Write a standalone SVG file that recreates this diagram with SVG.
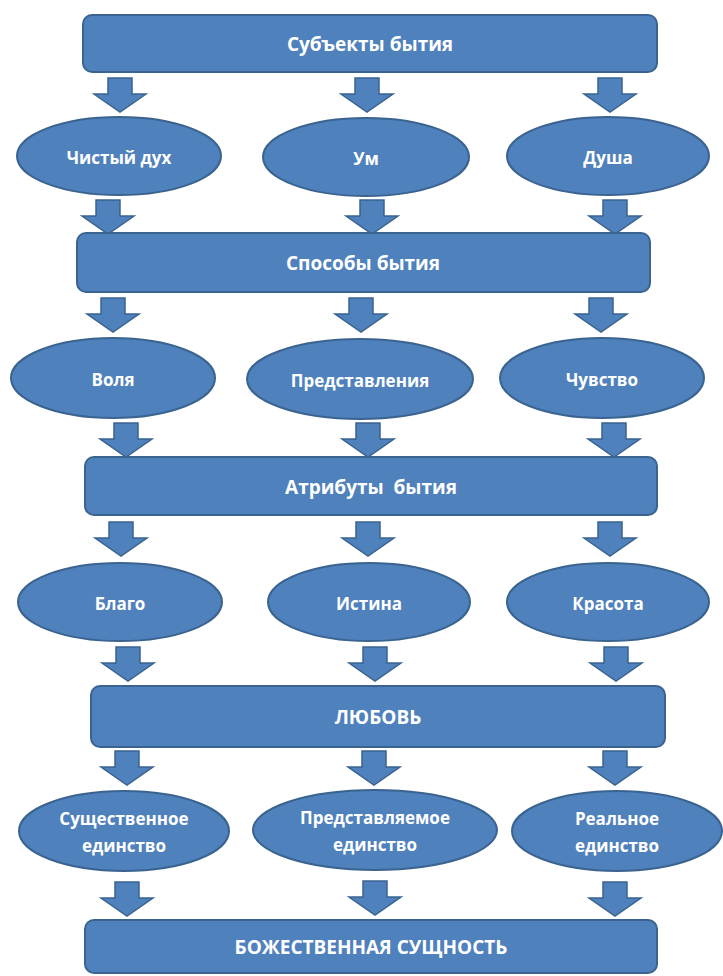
<svg xmlns="http://www.w3.org/2000/svg" xmlns:xlink="http://www.w3.org/1999/xlink" width="723" height="976" viewBox="0 0 723 976">
<style>
.box{fill:#4f81bd;stroke:#3a6390;stroke-width:2}
.ell{fill:#4f81bd;stroke:#3a6390;stroke-width:2}
.arr{fill:#4f81bd;stroke:#3a6390;stroke-width:1.5;stroke-linejoin:miter}
.bt{font-family:"Open Sans","Noto Sans","DejaVu Sans",sans-serif;font-weight:bold;font-size:19px;fill:#ffffff;text-anchor:middle;dominant-baseline:central}
.et{font-family:"Open Sans","Noto Sans","DejaVu Sans",sans-serif;font-weight:bold;font-size:17px;fill:#ffffff;text-anchor:middle;dominant-baseline:central}
</style>
<defs>
<path id="arrow" d="M -12 0 H 12 V 16 H 26 L 0 34 L -26 16 H -12 Z"/>
</defs>
<rect width="723" height="976" fill="#ffffff"/>
<g id="connectors">
<use xlink:href="#arrow" class="arr" x="120" y="78"/>
<use xlink:href="#arrow" class="arr" x="367" y="78"/>
<use xlink:href="#arrow" class="arr" x="610" y="78"/>
<use xlink:href="#arrow" class="arr" x="108" y="200"/>
<use xlink:href="#arrow" class="arr" x="372" y="200"/>
<use xlink:href="#arrow" class="arr" x="615" y="200"/>
<use xlink:href="#arrow" class="arr" x="113" y="298"/>
<use xlink:href="#arrow" class="arr" x="361" y="298"/>
<use xlink:href="#arrow" class="arr" x="601" y="298"/>
<use xlink:href="#arrow" class="arr" x="126" y="423"/>
<use xlink:href="#arrow" class="arr" x="368" y="423"/>
<use xlink:href="#arrow" class="arr" x="614" y="423"/>
<use xlink:href="#arrow" class="arr" x="121" y="522"/>
<use xlink:href="#arrow" class="arr" x="368" y="522"/>
<use xlink:href="#arrow" class="arr" x="610" y="522"/>
<use xlink:href="#arrow" class="arr" x="128" y="647"/>
<use xlink:href="#arrow" class="arr" x="375" y="647"/>
<use xlink:href="#arrow" class="arr" x="616" y="647"/>
<use xlink:href="#arrow" class="arr" x="127" y="751"/>
<use xlink:href="#arrow" class="arr" x="374" y="751"/>
<use xlink:href="#arrow" class="arr" x="615" y="751"/>
<use xlink:href="#arrow" class="arr" x="127" y="882"/>
<use xlink:href="#arrow" class="arr" x="375" y="881"/>
<use xlink:href="#arrow" class="arr" x="615" y="882"/>
</g>
<g id="subjects">
<rect class="box" x="83" y="15" width="574" height="57" rx="9"/>
<text class="bt" x="370" y="44">Субъекты бытия</text>
</g>
<g id="pure-spirit">
<ellipse class="ell" cx="119" cy="156" rx="102" ry="39"/>
<text class="et" x="119" y="157">Чистый дух</text>
</g>
<g id="mind">
<ellipse class="ell" cx="366" cy="157" rx="103" ry="39"/>
<text class="et" x="366" y="158">Ум</text>
</g>
<g id="soul">
<ellipse class="ell" cx="608" cy="156" rx="101" ry="39"/>
<text class="et" x="608" y="157">Душа</text>
</g>
<g id="modes">
<rect class="box" x="77" y="233" width="573" height="59" rx="9"/>
<text class="bt" x="363" y="263">Способы бытия</text>
</g>
<g id="will">
<ellipse class="ell" cx="113" cy="378" rx="102" ry="40"/>
<text class="et" x="113" y="379">Воля</text>
</g>
<g id="representations">
<ellipse class="ell" cx="360" cy="379" rx="113" ry="40"/>
<text class="et" x="360" y="380">Представления</text>
</g>
<g id="feeling">
<ellipse class="ell" cx="602" cy="378" rx="102" ry="40"/>
<text class="et" x="602" y="379">Чувство</text>
</g>
<g id="attributes">
<rect class="box" x="85" y="457" width="572" height="58" rx="9"/>
<text class="bt" x="371" y="487" xml:space="preserve">Атрибуты  бытия</text>
</g>
<g id="good">
<ellipse class="ell" cx="120" cy="602" rx="102" ry="39"/>
<text class="et" x="120" y="603">Благо</text>
</g>
<g id="truth">
<ellipse class="ell" cx="369" cy="602" rx="101" ry="39"/>
<text class="et" x="369" y="603">Истина</text>
</g>
<g id="beauty">
<ellipse class="ell" cx="608" cy="602" rx="101" ry="39"/>
<text class="et" x="608" y="603">Красота</text>
</g>
<g id="love">
<rect class="box" x="91" y="686" width="574" height="61" rx="9"/>
<text class="bt" x="378" y="717">ЛЮБОВЬ</text>
</g>
<g id="essential-unity">
<ellipse class="ell" cx="124" cy="831" rx="105" ry="40"/>
<text class="et" x="124" y="818">Существенное</text>
<text class="et" x="124" y="845">единство</text>
</g>
<g id="represented-unity">
<ellipse class="ell" cx="375" cy="830" rx="122" ry="40"/>
<text class="et" x="375" y="817">Представляемое</text>
<text class="et" x="375" y="844">единство</text>
</g>
<g id="real-unity">
<ellipse class="ell" cx="617" cy="831" rx="105" ry="40"/>
<text class="et" x="617" y="818">Реальное</text>
<text class="et" x="617" y="845">единство</text>
</g>
<g id="divine-essence">
<rect class="box" x="85" y="920" width="572" height="53" rx="9"/>
<text class="bt" x="371" y="947">БОЖЕСТВЕННАЯ СУЩНОСТЬ</text>
</g>
</svg>
